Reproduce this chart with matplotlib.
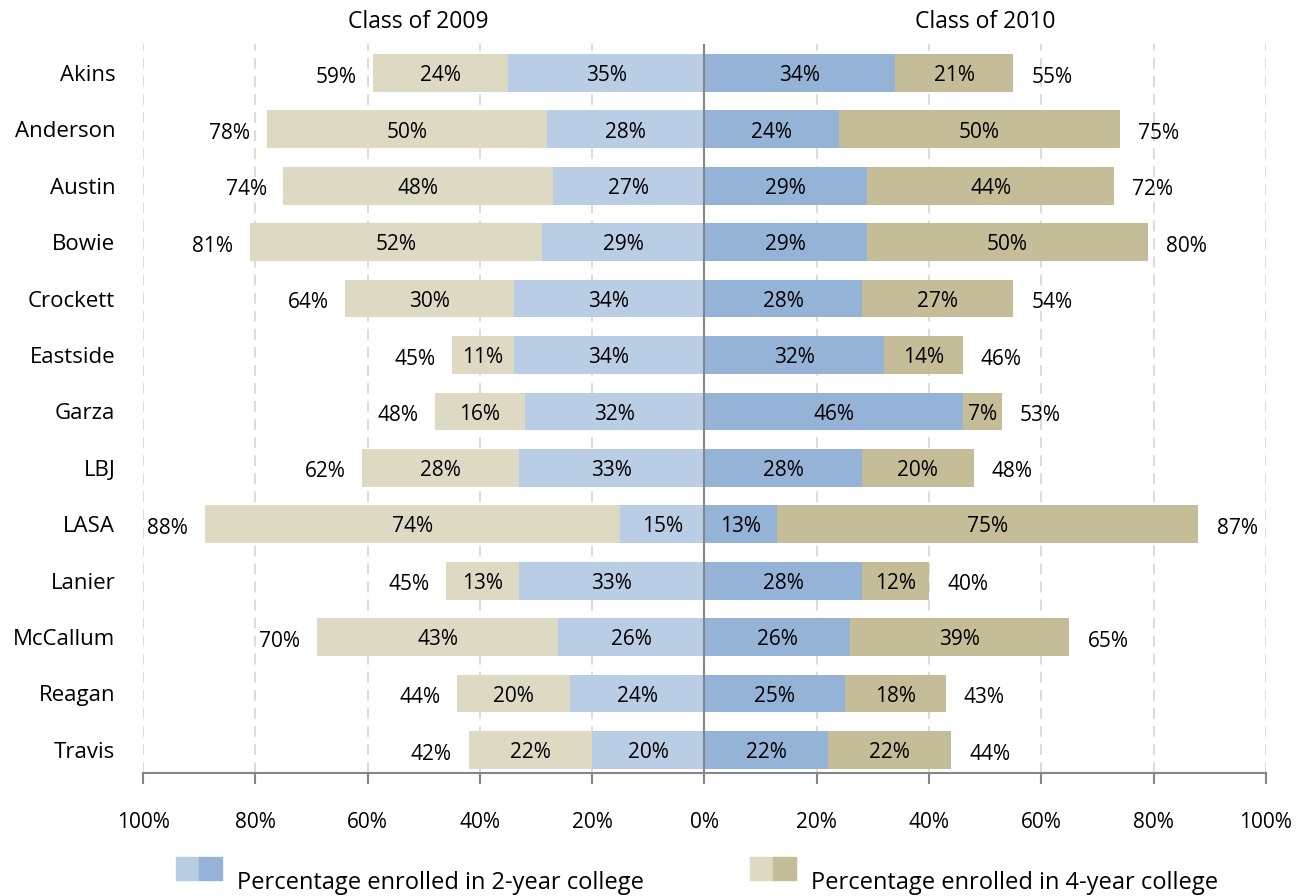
import numpy as np
import matplotlib
matplotlib.use('Agg')
import matplotlib.pyplot as plt
from matplotlib.patches import Rectangle
import matplotlib.transforms as mtransforms

plt.rcParams['font.family'] = ['Open Sans', 'DejaVu Sans']

schools = ['Akins', 'Anderson', 'Austin', 'Bowie', 'Crockett', 'Eastside', 'Garza',
           'LBJ', 'LASA', 'Lanier', 'McCallum', 'Reagan', 'Travis']

# class of 2009
two_yr_2009 = [35, 28, 27, 29, 34, 34, 32, 33, 15, 33, 26, 24, 20]
four_yr_2009 = [24, 50, 48, 52, 30, 11, 16, 28, 74, 13, 43, 20, 22]
total_2009 = [59, 78, 74, 81, 64, 45, 48, 62, 88, 45, 70, 44, 42]

# class of 2010
two_yr_2010 = [34, 24, 29, 29, 28, 32, 46, 28, 13, 28, 26, 25, 22]
four_yr_2010 = [21, 50, 44, 50, 27, 14, 7, 20, 75, 12, 39, 18, 22]
total_2010 = [55, 75, 72, 80, 54, 46, 53, 48, 87, 40, 65, 43, 44]

ticks = [-100, -80, -60, -40, -20, 0, 20, 40, 60, 80, 100]

c2_09, c4_09 = '#B9CDE5', '#DDD9C3'
c2_10, c4_10 = '#95B3D7', '#C4BD97'
grey = '#868686'
fs = 15

fig = plt.figure(figsize=(13.05, 8.96), dpi=100)
ax = fig.add_axes([0.1096, 0.1373, 0.8604, 0.8137])

y = np.arange(len(schools))
h = 0.67
t2_09 = np.array(two_yr_2009)
t4_09 = np.array(four_yr_2009)
t2_10 = np.array(two_yr_2010)
t4_10 = np.array(four_yr_2010)

ax.barh(y, -t2_09, height=h, color=c2_09, zorder=2)
ax.barh(y, -t4_09, left=-t2_09, height=h, color=c4_09, zorder=2)
ax.barh(y, t2_10, height=h, color=c2_10, zorder=2)
ax.barh(y, t4_10, left=t2_10, height=h, color=c4_10, zorder=2)

for i in range(len(schools)):
    # segment labels
    for xc, v in [(-t2_09[i] / 2, t2_09[i]), (-t2_09[i] - t4_09[i] / 2, t4_09[i]),
                  (t2_10[i] / 2, t2_10[i]), (t2_10[i] + t4_10[i] / 2, t4_10[i])]:
        ax.annotate(f'{v}%', (xc, i), xytext=(0, -2), textcoords='offset points',
                    ha='center', va='center', fontsize=fs, zorder=3)
    # totals at bar ends
    ax.annotate(f'{total_2009[i]}%', (-(t2_09[i] + t4_09[i]), i), xytext=(-12, -3),
                textcoords='offset points', ha='right', va='center', fontsize=fs)
    ax.annotate(f'{total_2010[i]}%', (t2_10[i] + t4_10[i], i), xytext=(13, -3),
                textcoords='offset points', ha='left', va='center', fontsize=fs)

ax.set_xlim(-100, 100)
ax.set_ylim(12.41, -0.515)

for t in ticks:
    if t != 0:
        ax.axvline(t, color='#D9D9D9', lw=1.3, ls=(0, (6, 4)), zorder=1)
ax.axvline(0, color=grey, lw=1.5, zorder=4)

ax.set_xticks(ticks)
ax.set_xticklabels([f'{abs(t)}%' for t in ticks], fontsize=fs)
ax.tick_params(axis='x', direction='out', length=8, width=1.5, color=grey, pad=20)
ax.set_yticks(y)
ax.set_yticklabels(schools, fontsize=fs + 1)
ax.tick_params(axis='y', length=0, pad=20)

for s in ['top', 'right', 'left']:
    ax.spines[s].set_visible(False)
ax.spines['bottom'].set_color(grey)
ax.spines['bottom'].set_linewidth(1.5)

trans = mtransforms.blended_transform_factory(ax.transData, ax.transAxes)
ax.text(-51, 1.03, 'Class of 2009', transform=trans, ha='center', va='center', fontsize=fs + 1.5)
ax.text(50, 1.03, 'Class of 2010', transform=trans, ha='center', va='center', fontsize=fs + 1.5)

# legend
W, H = 1305.0, 896.0
def legend_item(x0, ca, cb, label):
    fig.patches.append(Rectangle((x0 / W, 1 - 880 / H), 23 / W, 23 / H, color=ca,
                                 transform=fig.transFigure, figure=fig))
    fig.patches.append(Rectangle(((x0 + 23) / W, 1 - 880 / H), 23 / W, 23 / H, color=cb,
                                 transform=fig.transFigure, figure=fig))
    fig.text((x0 + 61) / W, 1 - 883 / H, label, ha='left', va='center', fontsize=fs + 2)

legend_item(176, c2_09, c2_10, 'Percentage enrolled in 2-year college')
legend_item(750, c4_09, c4_10, 'Percentage enrolled in 4-year college')

fig.savefig('out.png', dpi=100)
